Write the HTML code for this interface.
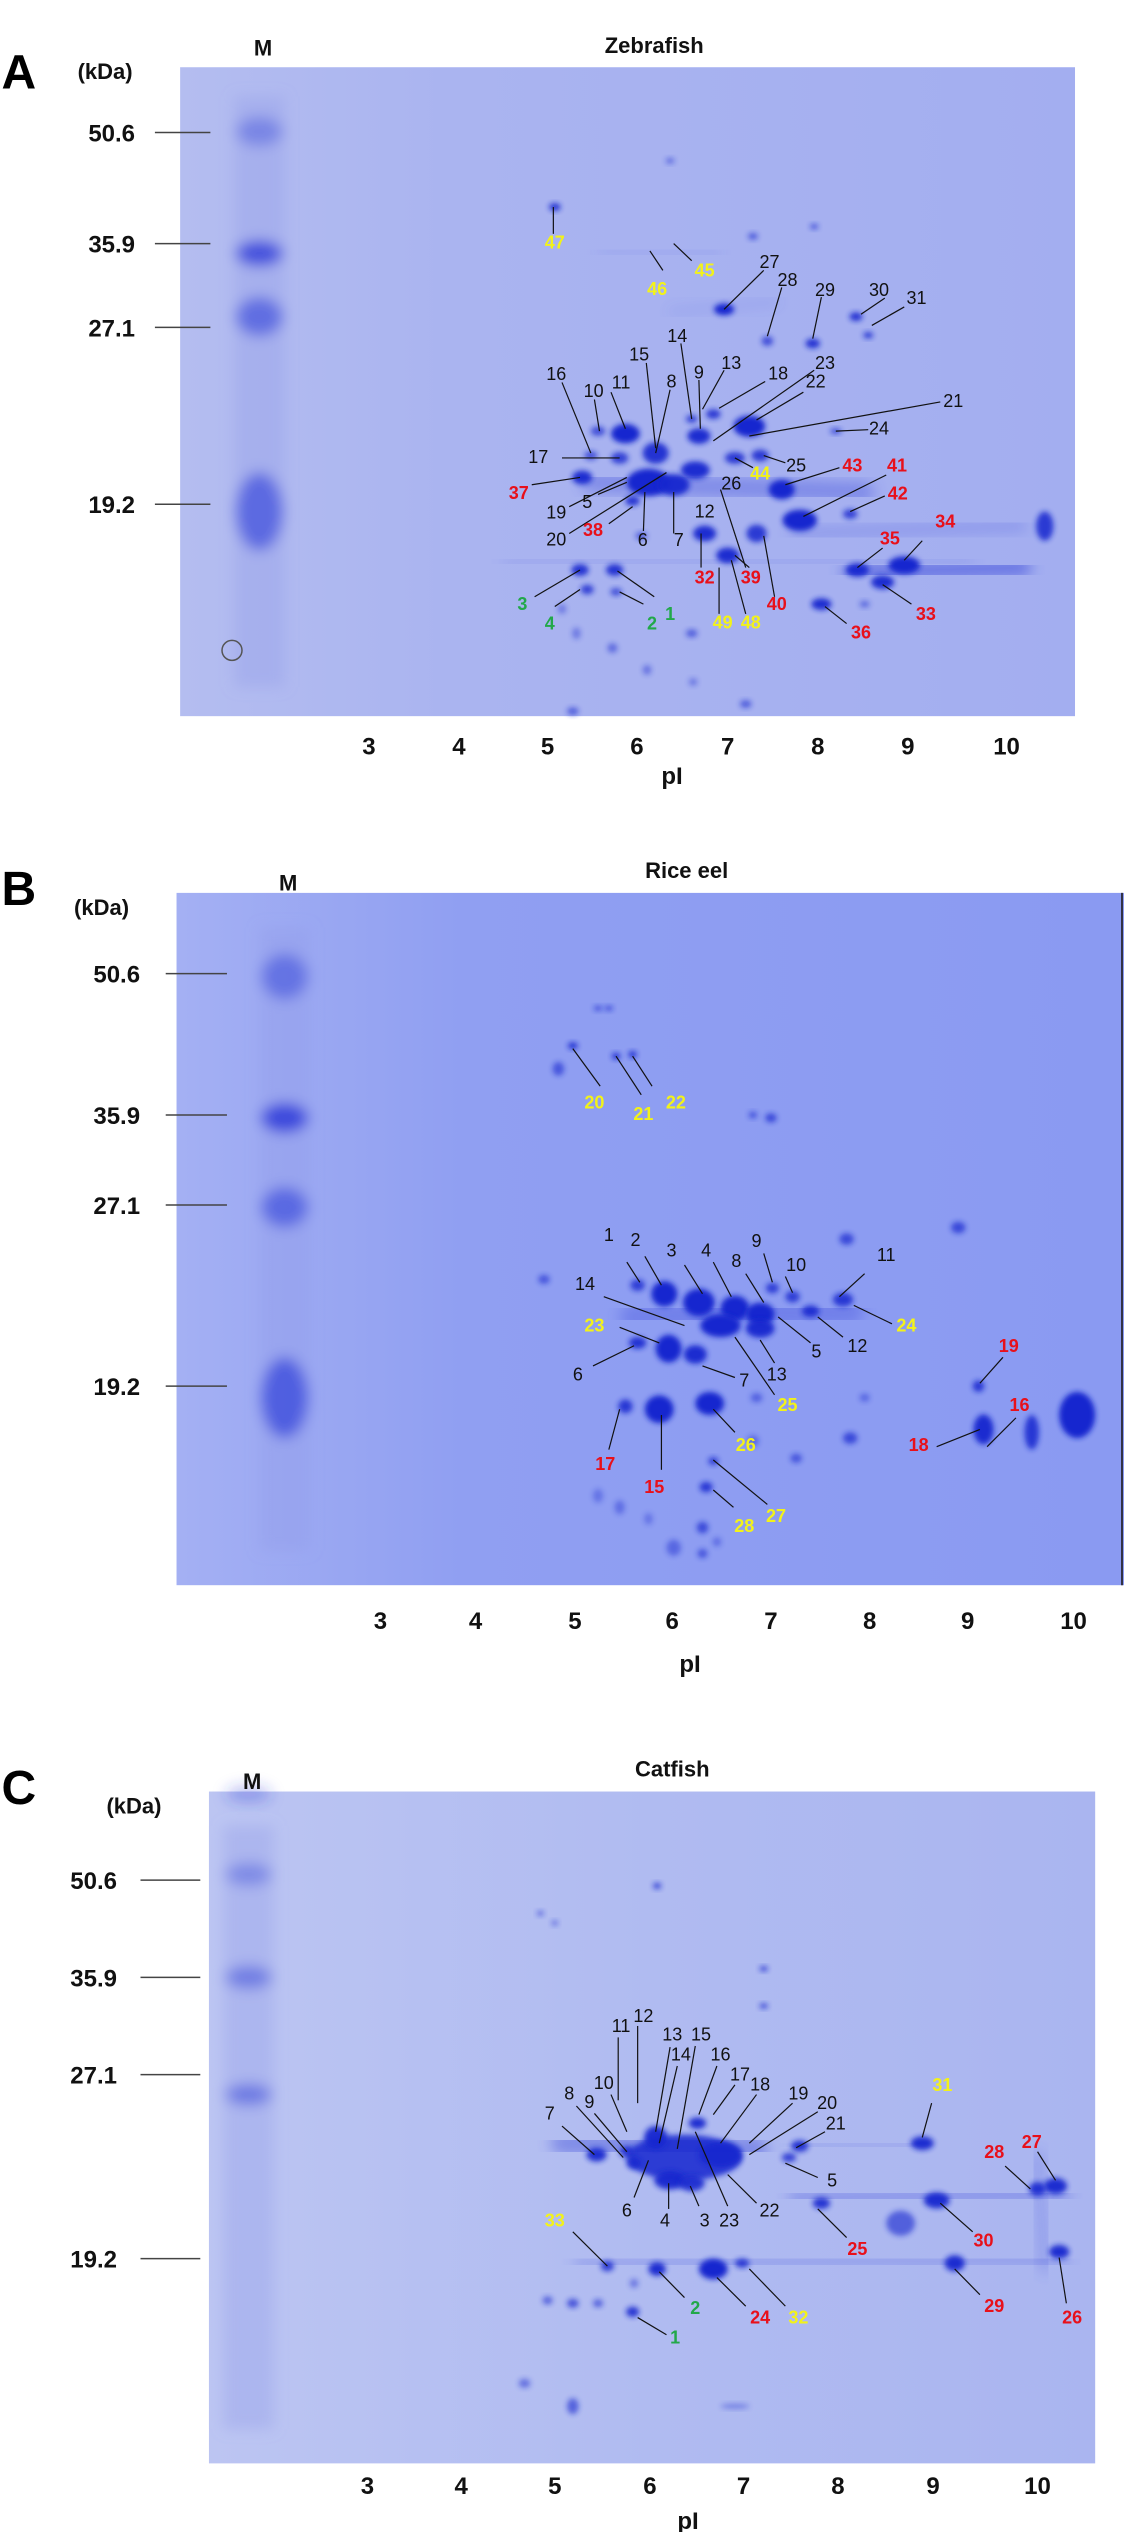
<!DOCTYPE html>
<html><head><meta charset="utf-8"><style>
html,body{margin:0;padding:0;background:#fff;}
svg{display:block;}
text{font-family:"Liberation Sans",Arial,sans-serif;}
</style></head><body>
<svg id="fig" width="1124" height="2532" viewBox="0 0 1124 2532" xmlns="http://www.w3.org/2000/svg">
<defs>
<filter id="blur" x="-50%" y="-50%" width="200%" height="200%"><feGaussianBlur stdDeviation="2.6"/></filter>
<filter id="blurBig" x="-50%" y="-50%" width="200%" height="200%"><feGaussianBlur stdDeviation="7"/></filter>
<linearGradient id="gA" x1="0" x2="1"><stop offset="0" stop-color="#b4bdf0"/><stop offset="0.3" stop-color="#aab4f0"/><stop offset="1" stop-color="#a3aef0"/></linearGradient>
<linearGradient id="gB" x1="0" x2="1"><stop offset="0" stop-color="#a4b0f3"/><stop offset="0.3" stop-color="#909ff2"/><stop offset="1" stop-color="#8a9af2"/></linearGradient>
<linearGradient id="gC" x1="0" x2="1"><stop offset="0" stop-color="#bcc5f2"/><stop offset="0.5" stop-color="#b0bbf1"/><stop offset="1" stop-color="#aab5f0"/></linearGradient>
</defs>
</svg>
<script>
// Panel geometry (zoom-space -> page)
const SX = 1124/1560;
const panelOffY = [0, 740, 1640];
const panelSY = [760/1560, 900/1560, 892/1560];

// Axis data
const kdaLabels = ["50.6","35.9","27.1","19.2"];
const piLabels = ["3","4","5","6","7","8","9","10"];
const titles = ["Zebrafish","Rice eel","Catfish"];
const letters = ["A","B","C"];

// Panel A spots [x,y,rx,ry,alpha]
const spotsA = [[770,425,8,8,.9],[1005,635,14,12,1],[1128,705,10,10,.9],[1188,650,9,9,.9],[1205,688,7,7,.8],[1065,700,8,10,.7],
[868,890,20,20,1],[830,885,10,10,.7],[820,935,9,9,.7],[860,940,12,12,.8],[910,930,18,22,.9],[900,990,30,28,1],[935,995,22,22,.95],
[970,895,16,16,.95],[960,860,8,8,.8],[990,850,10,10,.85],[1040,875,22,22,1],[1160,885,8,6,.7],[1055,935,12,12,.85],[1020,940,14,12,.85],
[965,965,20,18,.95],[808,980,14,14,.95],[878,1028,10,10,.9],[1085,1005,18,20,1],[1110,1068,24,22,1],[1180,1055,10,10,.8],
[978,1095,16,16,.95],[1010,1140,16,16,.95],[1050,1095,14,18,.85],[1190,1170,16,14,.95],[1255,1160,22,18,1],[1225,1195,16,14,.95],
[1140,1240,14,12,.95],[805,1170,12,12,.9],[815,1210,9,10,.8],[853,1170,12,12,.9],[855,1215,8,8,.7],[1450,1080,12,30,.85],
[890,1100,8,8,.6],[960,1300,8,8,.6],[795,1460,8,8,.6],[1035,1445,8,8,.6],[1130,465,6,6,.6],[1045,485,7,7,.6],[930,330,6,6,.5],
[850,1330,7,10,.5],[898,1375,6,10,.45],[800,1300,6,12,.4],[780,1250,6,10,.4],[962,1400,6,8,.4],[1200,1240,7,7,.5]];
const streaksA = [[1180,1175,1420,1165,34,.55],[700,1155,1350,1150,10,.25],[820,990,1200,1010,40,.35],[1100,1095,1420,1080,14,.35],[830,515,1000,520,6,.3],[930,640,1080,620,6,.3]];
// Panel A labels [text,color,lx,ly,x1,y1,x2,y2]
const labelsA = [["47","y",770,498,768,425,768,480],["46","y",912,593,902,515,920,555],["45","y",978,555,935,500,960,535],
["27","k",1068,538,1060,555,1005,635],["28","k",1093,575,1085,590,1065,690],["29","k",1145,595,1140,610,1128,695],
["30","k",1220,595,1228,612,1195,645],["31","k",1272,612,1255,630,1210,668],["14","k",940,690,945,705,960,860],
["15","k",887,728,897,745,910,920],["16","k",772,768,780,785,820,930],["13","k",1015,745,1005,760,975,840],
["9","k",970,765,970,780,972,880],["18","k",1080,767,1062,783,998,838],["23","k",1145,745,1130,760,990,905],
["22","k",1132,783,1115,805,1050,862],["11","k",862,785,848,805,868,880],["10","k",824,803,825,820,832,885],
["8","k",932,783,930,800,910,930],["21","k",1323,823,1305,825,1040,895],["24","k",1220,880,1205,882,1160,885],
["17","k",747,938,780,940,860,940],["25","k",1105,955,1090,950,1060,935],["44","y",1055,972,1045,960,1020,940],
["43","r",1183,955,1165,960,1090,995],["41","r",1245,955,1230,975,1115,1060],["42","r",1246,1013,1228,1018,1180,1050],
["26","k",1015,992,1000,1005,1035,1165],["37","r",720,1012,738,995,805,980],["19","k",772,1052,790,1040,870,980],
["5","k",815,1030,830,1015,870,990],["20","k",772,1107,790,1095,925,970],["38","r",823,1088,845,1075,878,1040],
["6","k",892,1108,893,1090,895,1010],["7","k",942,1108,935,1095,935,1010],["12","k",978,1050,0,0,0,0],
["32","r",978,1185,973,1165,973,1095],["39","r",1042,1185,1040,1165,1020,1140],["49","y",1003,1278,998,1260,998,1165],
["48","y",1042,1278,1035,1260,1015,1150],["40","r",1078,1240,1075,1225,1060,1100],["34","r",1312,1070,1280,1110,1255,1150],
["35","r",1235,1105,1225,1125,1190,1165],["33","r",1285,1260,1265,1240,1225,1200],["36","r",1195,1298,1175,1280,1145,1245],
["3","g",725,1240,742,1225,805,1170],["4","g",763,1280,770,1245,805,1210],["1","g",930,1260,908,1225,857,1172],
["2","g",905,1280,893,1240,860,1215]];

// Panel B
const spotsB = [[795,530,7,6,.9],[855,548,6,6,.9],[878,545,6,6,.9],[830,465,6,5,.6],[845,465,6,5,.6],[775,570,8,12,.6],
[885,945,10,10,.8],[922,960,18,22,1],[970,975,22,24,1],[1020,985,20,22,1],[1055,995,20,20,1],[1072,950,9,9,.8],[1100,965,10,10,.8],
[1000,1015,28,20,1],[1055,1020,20,16,.95],[1125,990,12,10,.9],[1170,970,14,12,.85],[928,1055,18,24,1],[885,1045,12,10,.9],
[965,1065,16,16,.95],[868,1155,10,12,.85],[915,1160,20,24,1],[985,1150,20,20,1],[990,1250,7,7,.8],[980,1295,9,9,.85],
[1358,1120,8,10,.85],[1365,1195,14,26,.95],[1432,1200,10,30,.85],[1495,1170,25,40,1],[1175,865,10,10,.7],[1330,845,10,10,.7],
[1070,655,8,8,.7],[1045,650,6,6,.6],[975,1365,8,10,.7],[1180,1210,10,10,.7],[1105,1245,8,8,.6],[755,935,8,8,.6],
[975,1410,7,8,.6],[935,1400,10,14,.45],[860,1330,7,12,.4],[830,1310,7,12,.35],[900,1350,6,10,.35],[995,1390,6,8,.4],
[1050,1140,8,8,.5],[1200,1140,7,7,.45],[1045,1215,8,10,.45]];
const streaksB = [[1100,1205,1480,1205,22,.5],[820,1150,1060,1150,24,.35],[975,1230,975,1420,14,.3],[880,1000,1180,990,50,.3],[930,1180,930,1420,12,.2]];
const labelsB = [["20","y",825,628,833,600,795,535],["21","y",893,648,890,615,855,548],["22","y",938,628,905,600,878,548],
["1","k",845,858,870,905,888,940],["2","k",882,867,895,895,918,945],["3","k",932,885,950,910,975,960],
["4","k",980,885,990,905,1015,965],["8","k",1022,903,1035,925,1060,975],["9","k",1050,868,1060,890,1072,940],
["10","k",1105,910,1090,930,1100,958],["11","k",1230,893,1200,925,1165,965],["14","k",812,943,838,965,950,1015],
["23","y",825,1015,860,1018,915,1045],["24","y",1258,1015,1238,1012,1185,980],["5","k",1133,1060,1125,1045,1080,1000],
["12","k",1190,1050,1170,1035,1135,1000],["13","k",1078,1100,1075,1080,1055,1040],["25","y",1093,1153,1075,1135,1020,1035],
["7","k",1033,1110,1020,1105,975,1085],["6","k",802,1100,823,1085,880,1050],["19","r",1400,1050,1392,1070,1360,1115],
["16","r",1415,1153,1410,1175,1370,1225],["18","r",1275,1222,1300,1225,1360,1195],["26","y",1035,1222,1020,1200,990,1160],
["17","r",840,1255,845,1230,860,1160],["15","r",908,1295,918,1265,918,1170],["27","y",1077,1345,1065,1325,990,1248],
["28","y",1033,1362,1018,1330,990,1300]];

// Panel C
const spotsC = [[950,905,80,40,.85],[828,900,14,12,.95],[870,895,10,10,.85],[880,915,10,10,.85],[910,870,16,20,.95],[968,845,12,10,.95],
[930,945,22,16,.95],[960,950,18,14,.9],[1000,900,30,22,.9],[1095,905,10,8,.8],[1110,885,12,10,.9],[1280,880,16,12,.95],
[1465,955,16,14,.95],[1440,960,12,12,.9],[1300,980,18,14,.95],[1140,985,12,10,.9],[843,1095,9,9,.85],[912,1100,12,12,.95],
[990,1100,20,18,1],[1030,1090,10,8,.85],[1325,1090,14,14,.95],[1470,1070,14,12,.95],[878,1175,9,9,.9],[795,1160,8,8,.7],
[760,1155,7,7,.6],[830,1160,7,7,.6],[1250,1020,20,22,.6],[912,430,6,6,.7],[1060,575,6,5,.7],[1060,640,6,5,.7],[795,1340,8,14,.6],[728,1300,8,8,.5],
[750,478,5,5,.5],[770,495,5,5,.45],[880,1125,6,8,.45],[1020,1340,20,5,.35]];
const streaksC = [[1100,975,1480,970,16,.45],[800,1090,1480,1085,12,.4],[1100,885,1280,882,8,.35],[780,880,1050,890,40,.4],[1440,900,1450,1100,14,.3],[960,1345,1080,1345,8,.25]];
const labelsC = [["7","k",763,828,780,850,825,900],["8","k",790,793,800,815,865,905],["9","k",818,808,825,828,870,895],
["10","k",838,775,848,795,870,860],["11","k",862,675,858,695,858,805],["12","k",893,658,885,675,885,810],
["13","k",933,690,930,712,910,860],["14","k",945,725,940,745,915,880],["15","k",973,690,965,710,940,890],
["16","k",1000,725,995,745,970,830],["17","k",1027,760,1020,778,990,830],["18","k",1055,777,1050,795,1000,880],
["19","k",1108,793,1100,810,1040,880],["20","k",1148,810,1135,825,1040,900],["21","k",1160,846,1145,860,1105,888],
["31","y",1308,778,1293,810,1280,870],["5","k",1155,945,1135,940,1090,915],["6","k",870,998,880,975,900,910],
["4","k",923,1015,928,995,928,950],["3","k",978,1015,970,990,958,955],["23","k",1012,1015,1010,990,965,860],
["22","k",1068,998,1050,985,1010,935],["28","r",1380,895,1395,920,1430,960],["27","r",1432,878,1440,895,1465,945],
["30","r",1365,1050,1350,1035,1305,985],["25","r",1190,1065,1175,1045,1135,995],["33","y",770,1015,795,1035,843,1095],
["29","r",1380,1165,1360,1145,1325,1100],["26","r",1488,1185,1480,1160,1470,1080],["2","g",965,1168,950,1150,915,1105],
["24","r",1055,1185,1035,1165,995,1115],["32","y",1108,1185,1090,1165,1040,1100],["1","g",937,1220,925,1215,885,1185]];

// Panel layout in zoom-space
const gels = [[250,138,1492,1470],[245,265,1560,1465],[290,265,1520,1440]];
const kdaY = [[272,500,672,1035],[405,650,806,1120],[420,590,760,1082]];
const kdaLX = [155,162,130];
const kdaLine = [[215,292],[230,315],[195,278]];
const piX = [[512,637,760,884,1010,1135,1260,1397],[528,660,798,933,1070,1207,1343,1490],[510,640,770,902,1032,1163,1295,1440]];
const piY = [1530,1525,1478];
const markerX = [360,395,345];
const markerBands = [[[270,.35,30],[520,.8,25],[650,.55,40],[1050,.6,80]],[[410,.45,40],[655,.85,25],[810,.55,35],[1140,.65,70]],[[410,.35,20],[590,.45,20],[795,.5,18],[270,.3,15]]];
const gradIds = ["gA","gB","gC"];
const allSpots = [spotsA,spotsB,spotsC];
const allStreaks = [streaksA,streaksB,streaksC];
const allLabels = [labelsA,labelsB,labelsC];
const colorMap = {k:"#111",r:"#e8101a",y:"#f2f21a",g:"#22a84a"};

const NS = "http://www.w3.org/2000/svg";
const svg = document.getElementById("fig");
function el(tag, attrs, parent){const e=document.createElementNS(NS,tag);for(const k in attrs)e.setAttribute(k,attrs[k]);(parent||svg).appendChild(e);return e;}
function X(zx){return zx*SX;}

for(let p=0;p<3;p++){
  const Y = zy => panelOffY[p] + zy*panelSY[p];
  const sy = panelSY[p];
  const g = el("g",{});
  
  
  const [gx1,gy1,gx2,gy2] = gels[p];
  const bg = el("rect",{x:X(gx1),y:Y(gy1),width:X(gx2)-X(gx1),height:Y(gy2)-Y(gy1),fill:"url(#"+gradIds[p]+")"},g);
  
  
  const lane = el("g",{filter:"url(#blurBig)"},g);
  
  
  el("rect",{x:X(markerX[p]-35),y:Y(gy1+60),width:X(70),height:Y(gy2-60)-Y(gy1+60),fill:"#8e9be8",opacity:.35},lane);
  for(const b of markerBands[p]){
    const e = el("ellipse",{cx:X(markerX[p]),cy:Y(b[0]),rx:X(32),ry:b[2]*sy,fill:"#2a3ad8",opacity:b[1]},lane);
    
    
  }
  for(const s of allStreaks[p]){
    const e = el("line",{x1:X(s[0]),y1:Y(s[1]),x2:X(s[2]),y2:Y(s[3]),stroke:"#3040d8","stroke-width":s[4]*sy,opacity:s[5],"stroke-linecap":"round",filter:"url(#blurBig)"},g);
    
    
  }
  for(const s of allSpots[p]){
    const e = el("ellipse",{cx:X(s[0]),cy:Y(s[1]),rx:X(s[2]),ry:s[3]*sy,fill:"#1426cf",opacity:s[4],filter:"url(#blur)"},g);
    
    
  }
  for(const l of allLabels[p]){
    if(l[4]||l[5]){
      const ln = el("line",{x1:X(l[4]),y1:Y(l[5]),x2:X(l[6]),y2:Y(l[7]),stroke:"#111","stroke-width":1.2},g);
      
      
    }
    const t = el("text",{x:X(l[2]),y:Y(l[3])+6,"font-size":18,"text-anchor":"middle",fill:colorMap[l[1]],"font-weight":l[1]==="k"?"normal":"bold"},g);
    t.textContent = l[0];
    
    
  }
  for(let i=0;i<kdaLabels.length;i++){
    const ln = el("line",{x1:X(kdaLine[p][0]),x2:X(kdaLine[p][1]),y1:Y(kdaY[p][i]),y2:Y(kdaY[p][i]),stroke:"#444","stroke-width":1.5},g);
    
    
    const t = el("text",{x:X(kdaLX[p]),y:Y(kdaY[p][i])+9,"font-size":24,"font-weight":"bold","text-anchor":"middle",fill:"#111"},g);
    t.textContent = kdaLabels[i];
    
    
  }
  for(let i=0;i<piLabels.length;i++){
    const t = el("text",{x:X(piX[p][i]),y:Y(piY[p])+9,"font-size":24,"font-weight":"bold","text-anchor":"middle",fill:"#111"},g);
    t.textContent = piLabels[i];
    
    
  }
  const kd = el("text",{x:X(gx1)-75,y:Y(gy1)+2+(p===0?10:20),"font-size":22,"font-weight":"bold","text-anchor":"middle",fill:"#111"},g);
  kd.textContent="(kDa)";
  
  
  const lt = el("text",{x:X(2),y:Y(p===0?145:255)+18,"font-size":48,"font-weight":"bold",fill:"#000"},g);
  lt.textContent = letters[p];
  
  
  const m = el("text",{x:X(markerX[p]+5),y:Y(p===0?95:245)+9,"font-size":22,"font-weight":"bold","text-anchor":"middle",fill:"#111"},g);
  m.textContent="M";
  
  
  const tt = el("text",{x:X(p===0?908:(p===1?953:933)),y:Y(p===0?92:225)+8,"font-size":22,"font-weight":"bold","text-anchor":"middle",fill:"#111"},g);
  tt.textContent = titles[p];
  
  
}
const piTitleY = [775, 1663, 2520];
const piTitleX = [672, 690, 688];
for(let i=0;i<3;i++){
  const t = el("text",{x:piTitleX[i],y:piTitleY[i]+9,"font-size":24,"font-weight":"bold","text-anchor":"middle",fill:"#111"});
  t.textContent="pI";
  
  
}
const c = el("circle",{cx:X(322),cy:1335*panelSY[0],r:10,fill:"none",stroke:"#555","stroke-width":1.5});


const rl = el("line",{x1:X(1560)-2,y1:740+265*panelSY[1],x2:X(1560)-2,y2:740+1465*panelSY[1],stroke:"#334","stroke-width":2});


</script>
</body></html>
